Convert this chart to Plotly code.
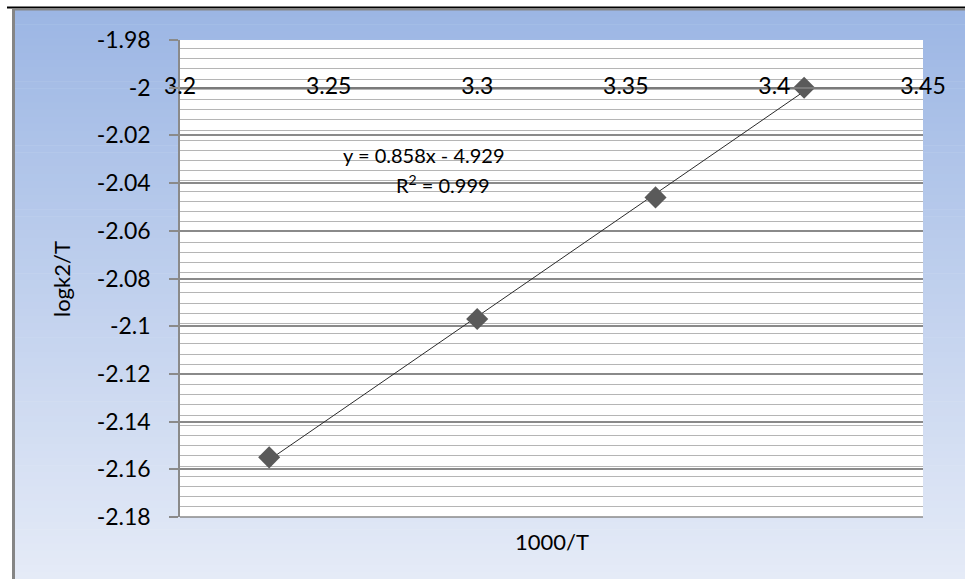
import numpy as np
import plotly.graph_objects as go

# ---- data ----
x_vals = [3.23, 3.30, 3.36, 3.41]
y_vals = [-2.155, -2.097, -2.046, -2.000]

x_ticks = [3.2, 3.25, 3.3, 3.35, 3.4, 3.45]
x_ticktext = ["3.2", "3.25", "3.3", "3.35", "3.4", "3.45"]
y_ticks = [-1.98, -2.0, -2.02, -2.04, -2.06, -2.08, -2.1, -2.12, -2.14, -2.16, -2.18]
y_ticktext = ["-1.98", "-2", "-2.02", "-2.04", "-2.06", "-2.08", "-2.1", "-2.12", "-2.14", "-2.16", "-2.18"]

eq_text = "y = 0.858x - 4.929"
r2_text = "R<sup>2</sup> = 0.999"
x_title = "1000/T"
y_title = "logk2/T"

# ---- layout geometry (pixels of a 965x579 canvas) ----
W, H = 965, 579
FONT = "Lato"
TXT = "#000000"

def px(x):
    return x / W

def py(y):
    return 1 - y / H

x_dom = [px(180), px(923)]
y_dom = [py(517), py(40)]
y_range = [-2.18, -1.98]
x_range = [3.2, 3.45]
# x axis crosses at y = -2
x_axis_pos = y_dom[0] + (-2.0 - y_range[0]) / (y_range[1] - y_range[0]) * (y_dom[1] - y_dom[0])

# trendline from least squares fit
slope, intercept = np.polyfit(x_vals, y_vals, 1)
fit_x = [min(x_vals), max(x_vals)]
fit_y = [slope * v + intercept for v in fit_x]

fig = go.Figure()
fig.add_trace(go.Scatter(x=fit_x, y=fit_y, mode="lines",
                         line=dict(color="#2b2b2b", width=1), showlegend=False,
                         hoverinfo="skip"))
fig.add_trace(go.Scatter(x=x_vals, y=y_vals, mode="markers",
                         marker=dict(symbol="diamond", size=17, color="#5a5a5a",
                                     line=dict(width=0)),
                         showlegend=False))

# ---- background gradient (Excel-like) ----
shapes = []
top_c = np.array([156, 182, 228])
bot_c = np.array([229, 235, 247])
n = 80
y_top, y_bot = 10, H
for i in range(n):
    t = (i + 0.5) / n
    c = (top_c + (bot_c - top_c) * t).round().astype(int)
    ya = y_top + (y_bot - y_top) * i / n
    yb = y_top + (y_bot - y_top) * (i + 1) / n + 0.6
    shapes.append(dict(type="rect", xref="paper", yref="paper", layer="below",
                       x0=px(15), x1=1.0, y0=py(min(yb, H)), y1=py(ya),
                       line=dict(width=0),
                       fillcolor=f"rgb({c[0]},{c[1]},{c[2]})"))
# plot area white
shapes.append(dict(type="rect", xref="paper", yref="paper", layer="below",
                   x0=x_dom[0], x1=x_dom[1], y0=y_dom[0], y1=y_dom[1],
                   line=dict(width=0), fillcolor="white"))
# outer frame
shapes.append(dict(type="line", xref="paper", yref="paper", layer="above",
                   x0=px(7), x1=1.0, y0=py(7.5), y1=py(7.5),
                   line=dict(color="black", width=2)))
shapes.append(dict(type="line", xref="paper", yref="paper", layer="above",
                   x0=px(12), x1=1.0, y0=py(9.5), y1=py(9.5),
                   line=dict(color="#858585", width=2)))
shapes.append(dict(type="line", xref="paper", yref="paper", layer="above",
                   x0=px(13.5), x1=px(13.5), y0=0, y1=py(9),
                   line=dict(color="#858585", width=3)))
# bottom border of plot area
shapes.append(dict(type="line", xref="paper", yref="paper", layer="above",
                   x0=x_dom[0], x1=x_dom[1], y0=y_dom[0], y1=y_dom[0],
                   line=dict(color="#8a8a8a", width=1.5)))

annotations = [
    dict(text=eq_text, x=px(424), y=py(155), xref="paper", yref="paper",
         showarrow=False, xanchor="center", yanchor="middle",
         font=dict(family=FONT, size=20, color=TXT)),
    dict(text=r2_text, x=px(443), y=py(184), xref="paper", yref="paper",
         showarrow=False, xanchor="center", yanchor="middle",
         font=dict(family=FONT, size=20, color=TXT)),
    dict(text=x_title, x=px(552), y=py(541), xref="paper", yref="paper",
         showarrow=False, xanchor="center", yanchor="middle",
         font=dict(family=FONT, size=22, color=TXT)),
    dict(text=y_title, x=px(62), y=py(279), xref="paper", yref="paper",
         showarrow=False, xanchor="center", yanchor="middle", textangle=-90,
         font=dict(family=FONT, size=22, color=TXT)),
]

fig.update_layout(
    width=W, height=H, autosize=False,
    margin=dict(l=0, r=0, t=0, b=0, pad=0, autoexpand=False),
    paper_bgcolor="white", plot_bgcolor="rgba(0,0,0,0)",
    font=dict(family=FONT, size=22, color=TXT),
    shapes=shapes, annotations=annotations,
    xaxis=dict(domain=x_dom, range=x_range, anchor="free", position=x_axis_pos,
               automargin=False,
               tickvals=x_ticks, ticktext=x_ticktext, showgrid=False,
               zeroline=False, showline=True, linecolor="#7a7a7a", linewidth=2,
               ticks="", ticklabelstandoff=-22,
               tickfont=dict(family=FONT, size=23, color=TXT)),
    yaxis=dict(domain=y_dom, range=y_range, tickvals=y_ticks, ticktext=y_ticktext,
               automargin=False,
               showgrid=True, gridcolor="#8a8a8a", gridwidth=2, zeroline=False,
               showline=True, linecolor="#8a8a8a", linewidth=1.5,
               ticks="outside", ticklen=9, tickcolor="#8a8a8a", tickwidth=1.5,
               ticklabelstandoff=14,
               minor=dict(tick0=-2.18, dtick=0.00427, showgrid=True,
                          gridcolor="#b5b5b5", gridwidth=1.3, ticks=""),
               tickfont=dict(family=FONT, size=23, color=TXT)),
)

fig.write_html("out.html")
